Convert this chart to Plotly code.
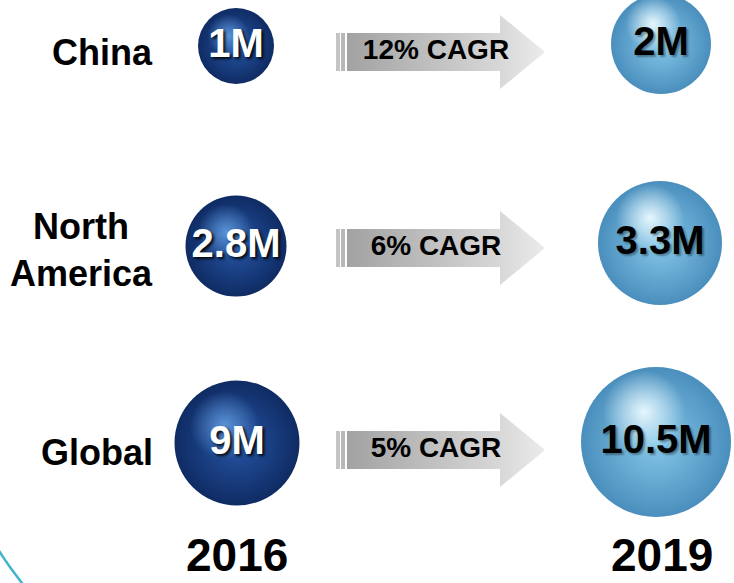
import plotly.graph_objects as go

# ---------------- data ----------------
regions = ["China", "North America", "Global"]
units_2016 = [1, 2.8, 9]          # millions
units_2019 = [2, 3.3, 10.5]       # millions
cagr_pct = [12, 6, 5]
years = ["2016", "2019"]

# ---------------- layout / style (pixel canvas) ----------------
W, H = 734, 583
x_2016 = [236, 236, 237]
x_2019 = [661, 660, 656]
row_y_2016 = [46, 246, 443]
row_y_2019 = [44, 243, 442]
diam_2016 = [76, 101, 125]
diam_2019 = [100, 124, 150]
arrow_y = [52, 248, 450]
label_y = [52, 250, 452]
FONT = "Liberation Sans, Arial, sans-serif"

fig = go.Figure()

# ---- arrows ----
shaft_x0, head_x0, tip_x = 347, 500, 545
shaft_h, head_h = 19, 37
for i, yc in enumerate(arrow_y):
    xs = [shaft_x0, head_x0, head_x0, tip_x, head_x0, head_x0, shaft_x0, shaft_x0]
    ys = [yc - shaft_h, yc - shaft_h, yc - head_h, yc, yc + head_h, yc + shaft_h, yc + shaft_h, yc - shaft_h]
    fig.add_trace(go.Scatter(
        x=xs, y=ys, mode="lines", fill="toself",
        line=dict(width=0, color="rgba(0,0,0,0)"),
        fillgradient=dict(type="horizontal",
                          colorscale=[[0, "#a2a2a2"], [0.75, "#d6d6d6"], [1, "#ebebeb"]],
                          start=shaft_x0, stop=tip_x),
        hoverinfo="skip", showlegend=False))
    for bx0, bx1, col in [(336, 340, "#c4c4c4"), (341, 345, "#b8b8b8")]:
        fig.add_shape(type="rect", x0=bx0, x1=bx1, y0=yc - shaft_h, y1=yc + shaft_h,
                      xref="x", yref="y", fillcolor=col, line=dict(width=0), layer="above")


def sphere(xs, ys, ds, edge, center, hi, hi_dx, hi_dy, hi_scale):
    # base body
    fig.add_trace(go.Scatter(
        x=xs, y=ys, mode="markers",
        marker=dict(size=ds, color=edge, opacity=1, line=dict(width=0),
                    gradient=dict(type="radial", color=center)),
        hoverinfo="skip", showlegend=False))
    # specular highlight
    hx = [x + hi_dx * d for x, d in zip(xs, ds)]
    hy = [y + hi_dy * d for y, d in zip(ys, ds)]
    hs = [d * hi_scale for d in ds]
    fig.add_trace(go.Scatter(
        x=hx, y=hy, mode="markers",
        marker=dict(size=hs, color=hi[1], opacity=1, line=dict(width=0),
                    gradient=dict(type="radial", color=hi[0])),
        hoverinfo="skip", showlegend=False))


sphere(x_2016, row_y_2016, diam_2016, edge="#0f2b63", center="#2656a6",
       hi=("rgba(105,165,232,0.8)", "rgba(105,165,232,0)"),
       hi_dx=-0.1, hi_dy=-0.14, hi_scale=0.55)
sphere(x_2019, row_y_2019, diam_2019, edge="#4a8ebd", center="#86c9ea",
       hi=("rgba(236,250,255,0.95)", "rgba(236,250,255,0)"),
       hi_dx=-0.08, hi_dy=-0.2, hi_scale=0.55)

# ---- sphere value labels ----
fig.add_trace(go.Scatter(
    x=x_2016, y=[y + 1 for y in row_y_2016], mode="text",
    text=[f"{v:g}M" for v in units_2016],
    textfont=dict(family=FONT, size=40, color="white", weight="bold",
                  shadow="2px 2px 3px rgba(0,0,0,0.9)"),
    hoverinfo="skip", showlegend=False))
fig.add_trace(go.Scatter(
    x=x_2019, y=[y + 1 for y in row_y_2019], mode="text",
    text=[f"{v:g}M" for v in units_2019],
    textfont=dict(family=FONT, size=40, color="black", weight="bold",
                  shadow="2px 2px 2px rgba(0,0,0,0.35)"),
    hoverinfo="skip", showlegend=False))

# ---- CAGR labels ----
fig.add_trace(go.Scatter(
    x=[436] * len(cagr_pct), y=arrow_y, mode="text",
    text=[f"{c}% CAGR" for c in cagr_pct],
    textfont=dict(family=FONT, size=28, color="black", weight="bold"),
    hoverinfo="skip", showlegend=False))

annotations = []
for r, y in zip(regions, label_y):
    annotations.append(dict(x=155, y=y, xref="x", yref="y", text=r.replace(" ", "<br>"),
                            showarrow=False, xanchor="right", yanchor="middle", align="center",
                            font=dict(family=FONT, size=36, color="black", weight="bold")))
for yr, x in zip(years, [237, 662]):
    annotations.append(dict(x=x, y=555, xref="x", yref="y", text=yr, showarrow=False,
                            xanchor="center", yanchor="middle",
                            font=dict(family=FONT, size=46, color="black", weight="bold")))

# decorative arc bottom-left
fig.add_shape(type="path", path="M -4,546 Q 8,566 26,588", xref="x", yref="y",
              line=dict(color="#45b4cb", width=2.5))

fig.update_layout(
    width=W, height=H, margin=dict(l=0, r=0, t=0, b=0),
    paper_bgcolor="white", plot_bgcolor="white",
    xaxis=dict(range=[0, W], visible=False, fixedrange=True),
    yaxis=dict(range=[H, 0], visible=False, fixedrange=True),
    annotations=annotations, showlegend=False,
)

fig.write_html("out.html")
